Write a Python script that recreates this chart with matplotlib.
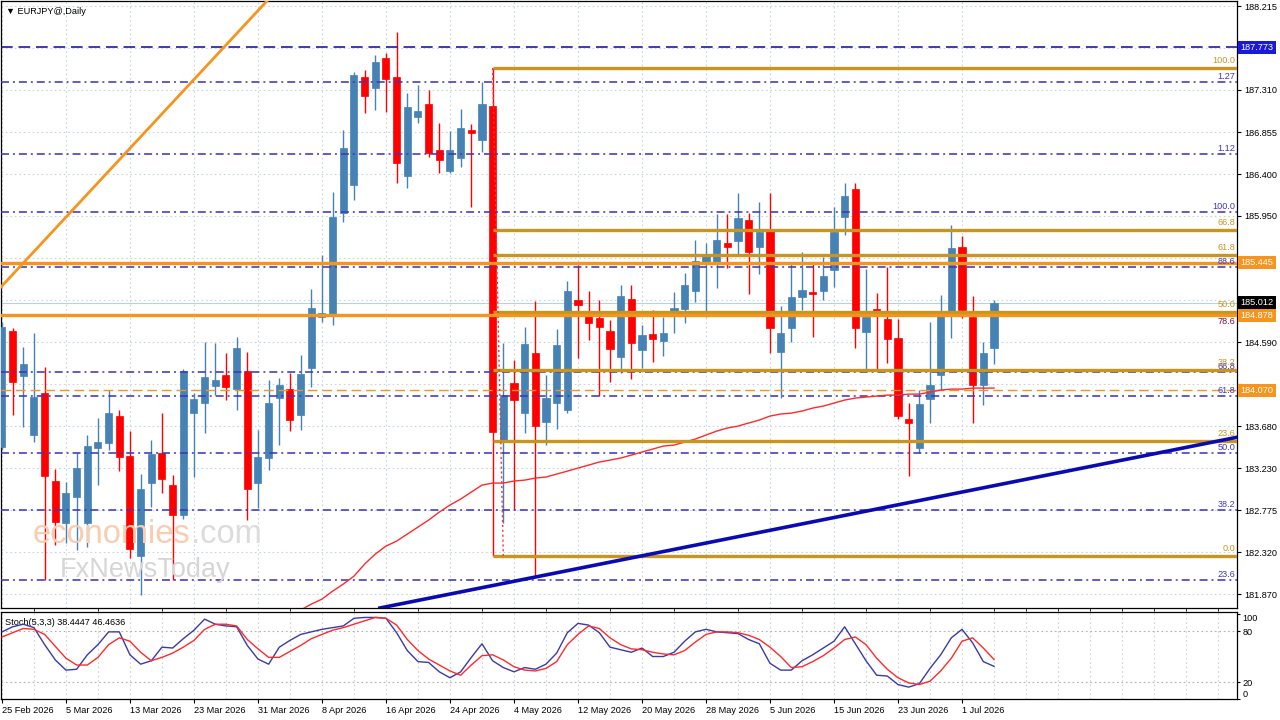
import numpy as np
import matplotlib
matplotlib.use("Agg")
import matplotlib.pyplot as plt
import matplotlib.transforms as mtransforms
from matplotlib.patches import Rectangle
from matplotlib import font_manager

# ---------------- data ----------------
date_labels = ["25 Feb 2026", "5 Mar 2026", "13 Mar 2026", "23 Mar 2026", "31 Mar 2026",
               "8 Apr 2026", "16 Apr 2026", "24 Apr 2026", "4 May 2026", "12 May 2026",
               "20 May 2026", "28 May 2026", "5 Jun 2026", "15 Jun 2026", "23 Jun 2026",
               "1 Jul 2026"]
label_step = 6  # one date label every 6 daily bars

opens = [
    183.457, 184.708, 184.223, 183.586, 184.039, 183.090, 182.636, 182.917, 182.636, 183.446,
    183.499, 183.791, 183.359, 182.280, 183.068, 183.392, 183.046, 182.723, 183.823, 183.931,
    184.115, 184.233, 184.082, 184.277, 183.068, 183.338, 183.985, 184.082, 183.802, 184.309,
    184.859, 184.881, 185.981, 186.284, 187.449, 187.330, 187.654, 187.449, 186.381, 187.017,
    187.158, 186.661, 186.435, 186.575, 186.877, 186.769, 187.136, 183.532, 184.147, 183.823,
    184.471, 183.726, 183.931, 183.856, 185.043, 184.902, 184.848, 184.708, 184.428, 185.054,
    184.503, 184.676, 184.600, 184.881, 184.946, 185.140, 185.453, 185.453, 185.658, 185.679,
    185.906, 185.615, 185.787, 184.482, 184.741, 185.075, 185.129, 185.140, 185.366, 185.938,
    186.241, 184.697, 184.946, 184.838, 184.633, 183.759, 183.446, 183.974, 184.233, 184.913,
    185.615, 184.859, 184.125, 184.525]
highs = [
    184.805, 184.741, 184.536, 184.687, 184.320, 183.219, 183.079, 183.392, 183.586, 183.769,
    184.072, 183.856, 183.629, 183.165, 183.532, 183.823, 183.154, 184.298, 184.039, 184.590,
    184.579, 184.471, 184.644, 184.482, 183.640, 184.179, 184.201, 184.255, 184.449, 185.161,
    185.528, 186.208, 186.877, 187.503, 187.525, 187.686, 187.708, 187.935, 187.276, 187.363,
    187.309, 186.953, 186.866, 187.104, 186.942, 187.395, 187.546, 184.579, 184.395, 184.752,
    185.032, 184.233, 184.730, 185.248, 185.420, 185.140, 185.043, 184.827, 185.205, 185.205,
    184.773, 184.935, 184.859, 185.129, 185.334, 185.690, 185.658, 185.971, 185.971, 186.197,
    185.982, 186.100, 186.197, 184.978, 185.453, 185.561, 185.453, 185.507, 186.046, 186.305,
    186.305, 185.377, 185.118, 185.399, 184.838, 183.931, 184.072, 184.805, 185.097, 185.852,
    185.733, 185.086, 184.590, 185.043]
lows = [
    183.424, 183.802, 183.672, 183.510, 182.021, 182.399, 182.420, 182.345, 182.377, 183.046,
    183.424, 183.197, 182.259, 181.859, 182.809, 182.960, 182.021, 182.680, 183.133, 183.607,
    184.017, 183.964, 183.856, 182.669, 182.798, 183.208, 183.478, 183.629, 183.640, 184.104,
    184.805, 184.773, 185.884, 186.122, 187.061, 187.093, 187.071, 186.305, 186.251, 186.953,
    186.586, 186.413, 186.413, 186.478, 186.046, 186.640, 182.280, 182.636, 182.777, 183.607,
    182.054, 183.478, 183.651, 183.823, 184.417, 184.611, 184.007, 184.158, 184.255, 184.190,
    184.309, 184.374, 184.438, 184.687, 184.795, 185.021, 184.859, 185.172, 185.388, 185.528,
    185.108, 185.323, 184.471, 183.985, 184.589, 184.935, 184.643, 185.043, 185.183, 185.744,
    184.525, 184.287, 184.287, 184.363, 183.759, 183.144, 183.392, 183.715, 184.072, 184.633,
    184.848, 183.715, 183.910, 184.352]
closes = [
    184.751, 184.158, 184.352, 183.996, 183.144, 182.647, 182.960, 183.230, 183.467, 183.510,
    183.823, 183.349, 182.356, 183.003, 183.381, 183.111, 182.723, 184.277, 183.974, 184.212,
    184.179, 184.104, 184.525, 183.003, 183.349, 183.931, 184.125, 183.748, 184.244, 184.956,
    184.902, 185.938, 186.683, 187.471, 187.244, 187.611, 187.428, 186.521, 187.125, 187.082,
    186.629, 186.553, 186.661, 186.899, 186.845, 187.158, 183.618, 184.017, 183.964, 184.568,
    183.683, 183.985, 184.557, 185.140, 184.989, 184.795, 184.751, 184.514, 185.086, 184.579,
    184.665, 184.622, 184.687, 184.956, 185.205, 185.463, 185.518, 185.690, 185.615, 185.928,
    185.561, 185.777, 184.741, 184.687, 185.075, 185.151, 185.108, 185.302, 185.777, 186.165,
    184.741, 184.859, 184.924, 184.622, 183.791, 183.715, 183.920, 184.125, 184.924, 185.604,
    184.935, 184.125, 184.471, 185.012]

# moving average (red line), first visible bar = 28
ma_start = 28
ma_vals = [
    181.698, 181.762, 181.816, 181.902, 181.978, 182.064, 182.194, 182.302, 182.388, 182.442,
    182.518, 182.593, 182.669, 182.755, 182.831, 182.895, 182.971, 183.046, 183.068, 183.068,
    183.090, 183.100, 183.122, 183.133, 183.165, 183.197, 183.230, 183.262, 183.295, 183.316,
    183.338, 183.370, 183.403, 183.435, 183.467, 183.478, 183.510, 183.543, 183.586, 183.629,
    183.662, 183.683, 183.716, 183.748, 183.791, 183.813, 183.823, 183.845, 183.877, 183.899,
    183.931, 183.964, 183.985, 183.996, 184.007, 184.017, 184.017, 184.028, 184.028, 184.050,
    184.072, 184.082, 184.082, 184.093, 184.093, 184.093]

stoch_k = [
    79, 85, 88, 84, 64, 46, 34, 35, 52, 64,
    79, 79, 52, 41, 45, 61, 60, 71, 81, 94,
    88, 86, 85, 63, 47, 41, 61, 69, 76, 79,
    82, 84, 86, 95, 96, 96, 95, 78, 57, 44,
    43, 32, 25, 32, 49, 65, 45, 37, 32, 37,
    35, 41, 54, 78, 89, 87, 78, 61, 58, 55,
    60, 50, 50, 55, 68, 79, 82, 79, 78, 77,
    70, 65, 42, 34, 34, 45, 52, 60, 68, 85,
    65, 45, 28, 27, 17, 14, 18, 36, 52, 72,
    82, 66, 44, 38.4447]
stoch_d = [
    73, 78, 83, 82, 76, 62, 48, 40, 40, 49,
    64, 72, 68, 55, 45, 49, 54, 61, 69, 82,
    88, 88, 86, 70, 59, 49, 49, 56, 63, 71,
    76, 81, 84, 88, 92, 96, 95, 87, 70, 57,
    47, 40, 33, 28, 40, 51, 52, 46, 38, 34,
    33, 36, 44, 64, 76, 86, 83, 72, 64, 59,
    58, 55, 53, 52, 57, 67, 76, 79, 79, 78,
    75, 70, 61, 50, 37, 38, 44, 51, 60, 70,
    73, 64, 48, 35, 25, 19, 17, 21, 33, 48,
    68, 72, 60, 46.4636]

price_ticks = [188.215, 187.765, 187.310, 186.855, 186.400, 185.950, 185.495, 185.040,
               184.590, 184.135, 183.680, 183.230, 182.775, 182.320, 181.870]

# fibonacci drawn from the big April drop (gold) and the blue projection fib
gold_fib_hi, gold_fib_lo = 187.546, 182.280
gold_fib_start = 46
gold_levels = [0.0, 0.236, 0.382, 0.5, 0.618, 0.668, 1.0]
gold_labels = ["0.0", "23.6", "38.2", "50.0", "61.8", "66.8", "100.0"]

blue_fib_hi, blue_fib_lo = 185.992, 180.791
blue_levels = [0.236, 0.382, 0.5, 0.618, 0.668, 0.886, 1.0, 1.12, 1.27]
blue_labels = ["23.6", "38.2", "50.0", "61.8", "66.8", "88.6", "100.0", "1.12", "1.27"]
dark_level, dark_label = 184.869, "78.6"

res_dashed = 187.773
orange_lines = [185.445, 184.878]
orange_dashed = 184.070
last_price = 185.012

orange_trend = [(0, 185.195), (24, 188.166)]
blue_trend = [(50, 182.054), (93, 183.040)]

# ---------------- style ----------------
BLUE_C = "#4682b4"
RED_C = "#ff0000"
GOLD = "#c8961e"
ORANGE = "#f7941d"
FIBBLUE = "#4036be"
NAVY = "#1c1c9a"
GRID = "#c6d6de"

available = {f.name for f in font_manager.fontManager.ttflist}
narrow = "Liberation Sans Narrow" if "Liberation Sans Narrow" in available else "Liberation Sans"
plt.rcParams["font.family"] = [narrow, "DejaVu Sans"]
FS = 7.2 if narrow.endswith("Narrow") else 6.6

W, H = 1280, 720
fig = plt.figure(figsize=(12.8, 7.2), dpi=100, facecolor="white")
ax = fig.add_axes([1 / W, (H - 608) / H, 1236 / W, 607 / H])
ax_st = fig.add_axes([1 / W, (H - 699) / H, 1236 / W, 87 / H], sharex=ax)

n = len(opens)
x = np.arange(n)
o, h, l, c = (np.array(v) for v in (opens, highs, lows, closes))
xmax = 115.78
ax.set_xlim(-0.09, xmax)
ax.set_ylim(181.72, 188.27)

box_prices = [res_dashed, orange_lines[0], last_price, orange_lines[1], orange_dashed]

# grid and price axis (labels sitting under a price box are left blank)
ax.set_yticks(price_ticks)
tick_text = []
for t in price_ticks:
    hidden = any(abs(t - p) < 0.075 for p in box_prices)
    tick_text.append("" if hidden else f"{t:.3f}")
ax.set_yticklabels(tick_text, fontsize=FS)
ax.yaxis.tick_right()
ax.tick_params(axis="y", length=3, width=0.8, pad=2)
ax.set_xticks(np.arange(0, xmax, 3))
ax.tick_params(axis="x", length=0, labelbottom=False)
ax.grid(True, linestyle=(0, (1.5, 2.5)), color=GRID, lw=0.8, zorder=0)
ax.set_axisbelow(True)
for s in ax.spines.values():
    s.set_linewidth(0.9)

# candles
up = c >= o
cols = np.where(up, BLUE_C, RED_C)
ax.vlines(x, l, h, colors=cols, lw=1.0, zorder=3)
body_b = np.minimum(o, c)
body_h = np.maximum(np.abs(c - o), 0.012)
ax.bar(x, body_h, bottom=body_b, width=0.66, color=cols, edgecolor=cols, lw=0.5, zorder=4)

# moving average
ax.plot(np.arange(ma_start, ma_start + len(ma_vals)), ma_vals, color="#ff2a2a", lw=1.0, zorder=6)

right = mtransforms.blended_transform_factory(ax.transAxes, ax.transData)

# blue fibonacci
for r, lab in zip(blue_levels, blue_labels):
    p = blue_fib_lo + r * (blue_fib_hi - blue_fib_lo)
    ax.axhline(p, color=FIBBLUE, lw=1.15, ls=(0, (5, 2.5, 1.2, 2.5)), zorder=5)
    ax.text(0.9985, p + 0.01, lab, transform=right, ha="right", va="bottom",
            color=FIBBLUE, fontsize=FS, zorder=7)
ax.axhline(dark_level, color="#7a1030", lw=1.15, ls=(0, (5, 2.5, 1.2, 2.5)), zorder=5)
ax.text(0.9985, dark_level - 0.01, dark_label, transform=right, ha="right", va="top",
        color="#7a1030", fontsize=FS, zorder=7)

# gold fibonacci
for r, lab in zip(gold_levels, gold_labels):
    p = gold_fib_lo + r * (gold_fib_hi - gold_fib_lo)
    ax.hlines(p, gold_fib_start, xmax, color=GOLD, lw=2.4, zorder=6)
    ax.text(0.9985, p + 0.03, lab, transform=right, ha="right", va="bottom",
            color=GOLD, fontsize=FS, zorder=7)
ax.plot([gold_fib_start, gold_fib_start + 1], [gold_fib_hi, gold_fib_lo],
        color="#ff3030", lw=1.0, ls=(0, (1.5, 2)), zorder=6)

# support / resistance lines
ax.axhline(res_dashed, color=NAVY, lw=1.2, ls=(0, (7, 3.5)), zorder=5)
for p in orange_lines:
    ax.axhline(p, color=ORANGE, lw=2.4, zorder=6)
ax.axhline(orange_dashed, color=ORANGE, lw=1.0, ls=(0, (7, 3.5)), zorder=5)
ax.axhline(last_price, color="#b8d4d4", lw=0.8, zorder=2)

# trend lines
ax.axline(orange_trend[0], orange_trend[1], color=ORANGE, lw=2.0, zorder=6)
ax.axline(blue_trend[0], blue_trend[1], color="#0a0ab4", lw=2.6, zorder=6)

# price boxes on the right axis
box_colors = ["#1a1ad6", ORANGE, "black", ORANGE, ORANGE]
box_h = 13 / 92.67
for p, bg in zip(box_prices, box_colors):
    ax.add_patch(Rectangle((1.0008, p - box_h / 2), 0.0308, box_h, transform=right,
                           fc=bg, ec="none", clip_on=False, zorder=19))
    ax.text(1.0030, p, f"{p:.3f}", transform=right, ha="left", va="center", color="white",
            fontsize=FS, clip_on=False, zorder=20)

ax.text(0.004, 0.982, "\u25bc EURJPY@,Daily", transform=ax.transAxes, ha="left",
        va="center", fontsize=FS, color="black", zorder=20)

# watermark
wm1 = fig.text(33 / W, 1 - 543 / H, "economies", color="#f9cdb0", fontsize=23.5,
               family="Liberation Sans", ha="left", va="baseline", zorder=0)
fig.canvas.draw()
ext = wm1.get_window_extent()
fig.text(ext.x1 / W, 1 - 543 / H, ".com", color="#dcdcdc", fontsize=23.5,
         family="Liberation Sans", ha="left", va="baseline", zorder=0)
fig.text(60 / W, 1 - 577 / H, "FxNewsToday", color="#d6d6d6", fontsize=19.5,
         family="Liberation Sans", ha="left", va="baseline", zorder=0)

# ---------------- stochastic panel ----------------
ax_st.set_ylim(0, 102.4)
ax_st.plot(x, stoch_k, color="#3a3aa8", lw=1.0, zorder=4)
ax_st.plot(x, stoch_d, color="#ff2a2a", lw=1.0, zorder=4)
for lvl in (20, 80):
    ax_st.axhline(lvl, color="#b0b0b0", lw=0.8, ls=(0, (1.5, 2.5)), zorder=1)
ax_st.set_xticks(np.arange(0, label_step * len(date_labels), label_step))
ax_st.set_xticklabels(date_labels, fontsize=FS)
for t in ax_st.get_xticklabels():
    t.set_ha("left")
ax_st.set_xticks(np.arange(0, xmax, 3), minor=True)
ax_st.tick_params(axis="x", which="major", length=3, width=0.8, pad=2)
ax_st.tick_params(axis="x", which="minor", length=0)
ax_st.grid(True, axis="x", which="both", linestyle=(0, (1.5, 2.5)), color=GRID, lw=0.8)
ax_st.set_axisbelow(True)
ax_st.yaxis.tick_right()
ax_st.set_yticks([100, 80, 20, 0])
ax_st.set_yticklabels(["100", "80", "20", "0"], fontsize=FS)
ax_st.tick_params(axis="y", length=2, width=0.8, pad=2)
st_labels = ax_st.get_yticklabels()
st_labels[0].set_va("top")
st_labels[-1].set_va("bottom")
for s in ax_st.spines.values():
    s.set_linewidth(0.9)
ax_st.text(0.003, 0.885, f"Stoch(5,3,3) {stoch_k[-1]:.4f} {stoch_d[-1]:.4f}",
           transform=ax_st.transAxes, ha="left", va="center", fontsize=FS)

fig.savefig("out.png", dpi=100, facecolor="white")
